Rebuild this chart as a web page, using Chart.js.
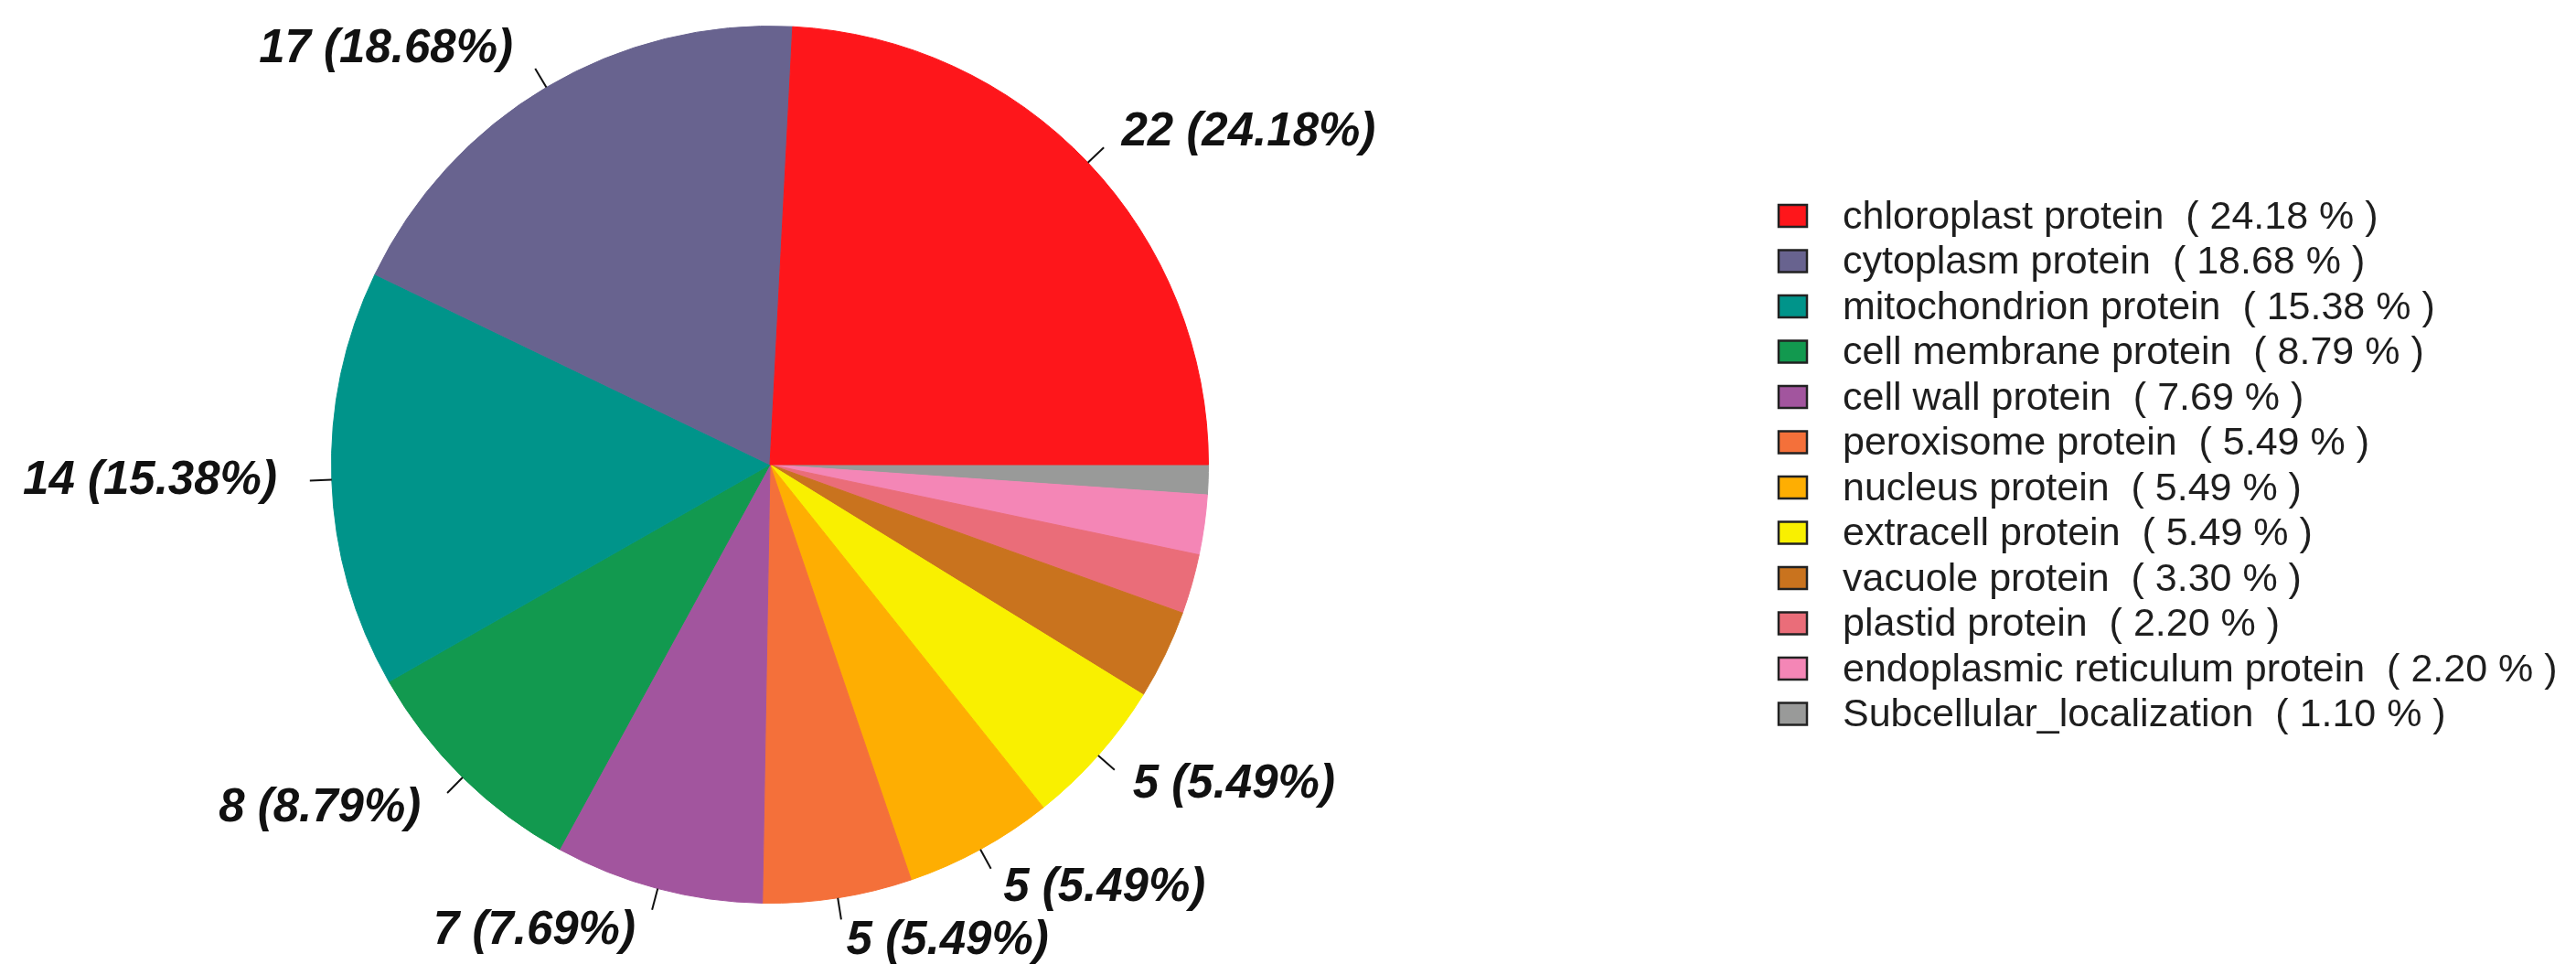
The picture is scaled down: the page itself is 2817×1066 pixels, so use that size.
<!DOCTYPE html>
<html>
<head>
<meta charset="utf-8">
<script src="https://cdn.jsdelivr.net/npm/chart.js@4.4.0/dist/chart.umd.min.js"></script>
<style>
  html, body { margin: 0; padding: 0; background: #fff; }
  #wrap { width: 2817px; height: 1066px; position: relative; }
</style>
</head>
<body>
<div id="wrap"><canvas id="pieChart" width="2817" height="1066"></canvas></div>
<script>
// subcellular localization, legend order
const categories = [
  "chloroplast protein", "cytoplasm protein", "mitochondrion protein",
  "cell membrane protein", "cell wall protein", "peroxisome protein",
  "nucleus protein", "extracell protein", "vacuole protein",
  "plastid protein", "endoplasmic reticulum protein", "Subcellular_localization"
];
const counts   = [22, 17, 14, 8, 7, 5, 5, 5, 3, 2, 2, 1];
const percents = [24.18, 18.68, 15.38, 8.79, 7.69, 5.49, 5.49, 5.49, 3.30, 2.20, 2.20, 1.10];
const colors = [
  "#FE161B", "#68638F", "#00948A", "#12994F", "#A2559E", "#F4703A",
  "#FEAE02", "#F9F000", "#C9731E", "#EA6D79", "#F486B6", "#999A99"
];

// the original goes counter-clockwise from 3 o'clock, chart.js goes clockwise,
// so feed the slices in reverse
const drawOrder = counts.map((_, i) => counts.length - 1 - i);

const sliceLabels = {
  id: 'sliceLabels',
  afterDatasetsDraw(chart) {
    const ctx = chart.ctx;
    const meta = chart.getDatasetMeta(0);
    ctx.save();
    meta.data.forEach((arc, k) => {
      const i = drawOrder[k];
      if (counts[i] < 5) return;
      const p = arc.getProps(['x', 'y', 'startAngle', 'endAngle', 'outerRadius'], true);
      const mid = (p.startAngle + p.endAngle) / 2;
      const c = Math.cos(mid), s = Math.sin(mid);
      const r = p.outerRadius;
      ctx.beginPath();
      ctx.moveTo(p.x + c * r, p.y + s * r);
      ctx.lineTo(p.x + c * r * 1.05, p.y + s * r * 1.05);
      ctx.strokeStyle = '#111';
      ctx.lineWidth = 2;
      ctx.stroke();
      ctx.font = 'italic bold 51px "Liberation Sans", Arial, sans-serif';
      ctx.fillStyle = '#111';
      const left = c < 0;
      ctx.textAlign = left ? 'right' : 'left';
      ctx.textBaseline = 'middle';
      // italic overhang: left-side labels sit a bit further out
      const tx = p.x + c * r * 1.1 + (left ? -12 : 2);
      ctx.fillText(counts[i] + ' (' + percents[i].toFixed(2) + '%)', tx, p.y + s * r * 1.1);
    });
    ctx.restore();
  }
};

const legendList = {
  id: 'legendList',
  afterDraw(chart) {
    const ctx = chart.ctx;
    const top = 236, step = 49.5;
    ctx.save();
    ctx.font = '43px "Liberation Sans", Arial, sans-serif';
    ctx.textBaseline = 'middle';
    ctx.textAlign = 'left';
    categories.forEach((name, i) => {
      const y = top + i * step;
      ctx.fillStyle = colors[i];
      ctx.fillRect(1945, y - 12, 31, 24);
      ctx.strokeStyle = '#222';
      ctx.lineWidth = 2.5;
      ctx.strokeRect(1945, y - 12, 31, 24);
      ctx.fillStyle = '#1e1e1e';
      ctx.fillText(name + '  ( ' + percents[i].toFixed(2) + ' % )', 2015, y + 2);
    });
    ctx.restore();
  }
};

new Chart(document.getElementById('pieChart'), {
  type: 'pie',
  data: {
    labels: drawOrder.map(i => categories[i]),
    datasets: [{
      data: drawOrder.map(i => counts[i]),
      backgroundColor: drawOrder.map(i => colors[i]),
      borderColor: drawOrder.map(i => colors[i]),
      borderWidth: 1
    }]
  },
  options: {
    responsive: false,
    animation: false,
    rotation: 90,
    layout: { padding: { left: 362, right: 1495, top: 28, bottom: 78 } },
    plugins: {
      legend: { display: false },
      tooltip: { enabled: false }
    }
  },
  plugins: [sliceLabels, legendList]
});
</script>
</body>
</html>
